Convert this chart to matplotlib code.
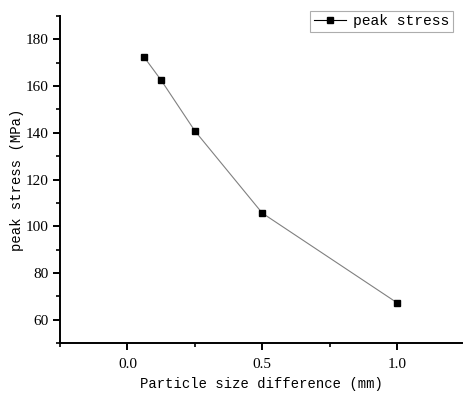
import numpy as np
import matplotlib
matplotlib.use('Agg')
import matplotlib.pyplot as plt
from matplotlib.ticker import MultipleLocator

# data
size_diff = [0.0625, 0.125, 0.25, 0.5, 1.0]
peak_stress = [172.3, 162.5, 140.8, 105.6, 67.2]

x_label = 'Particle size difference (mm)'
y_label = 'peak stress (MPa)'
series_name = 'peak stress'

plt.rcParams['font.family'] = ['Liberation Mono', 'DejaVu Sans']

fig = plt.figure(figsize=(4.63, 3.94), dpi=100)
ax = fig.add_axes([0.1296, 0.1294, 0.868, 0.83])

ax.plot(size_diff, peak_stress, color='#808080', lw=0.8, zorder=1)
ax.plot(size_diff, peak_stress, ls='none', marker='s', ms=5, color='black',
        zorder=2, label=series_name)
# legend proxy: line through marker
h, = ax.plot([], [], color='black', lw=0.8, marker='s', ms=5)

ax.set_xlim(-0.25, 1.24)
ax.set_ylim(50, 190)
ax.xaxis.set_minor_locator(MultipleLocator(0.25))
ax.yaxis.set_minor_locator(MultipleLocator(10))
ax.set_xticks([0.0, 0.5, 1.0])
ax.set_xticklabels(['0.0', '0.5', '1.0'])
ax.set_yticks([60, 80, 100, 120, 140, 160, 180])

for s in ['top', 'right']:
    ax.spines[s].set_visible(False)
for s in ['left', 'bottom']:
    ax.spines[s].set_linewidth(1.4)

ax.tick_params(which='major', direction='out', length=5, width=1.4, labelsize=11,
               labelfontfamily='Liberation Serif')
ax.tick_params(axis='x', which='major', pad=6)
ax.tick_params(which='minor', direction='out', length=3, width=1.2)

ax.set_xlabel(x_label, fontsize=10, labelpad=4)
ax.set_ylabel(y_label, fontsize=10, labelpad=1)

leg = ax.legend([h], [series_name], loc='upper right', bbox_to_anchor=(0.985, 1.025),
                fontsize=10.5, frameon=True, fancybox=False, handlelength=2.2,
                handletextpad=0.5, borderpad=0.25, borderaxespad=0.2)
leg.get_frame().set_edgecolor('#999999')
leg.get_frame().set_linewidth(0.8)

fig.savefig('out.png', dpi=100)
